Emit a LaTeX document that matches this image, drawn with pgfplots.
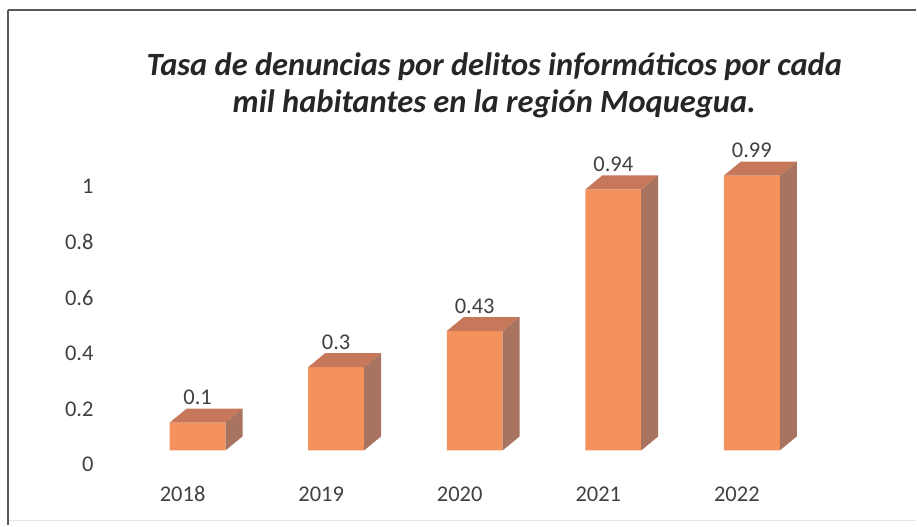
\documentclass[border=0pt]{standalone}
\usepackage{pgfplots}
\pgfplotsset{compat=1.18}
\usepackage{fontspec}
\setmainfont{Carlito}
\definecolor{frontc}{HTML}{F4925E}
\definecolor{topc}{HTML}{C8785A}
\definecolor{sidec}{HTML}{A8735F}
\definecolor{txt}{HTML}{404040}
\definecolor{ttl}{HTML}{262626}
\pgfdeclareplotmark{box3d}{%
  \pgfmathsetlengthmacro\hb{14pt-\yv*278pt}%
  \pgfmathsetlengthmacro\hc{-\yv*278pt}%
  \pgfpathmoveto{\pgfpoint{-28pt}{0pt}}%
  \pgfpathlineto{\pgfpoint{28pt}{0pt}}%
  \pgfpathlineto{\pgfpoint{45pt}{14pt}}%
  \pgfpathlineto{\pgfpoint{-11pt}{14pt}}%
  \pgfpathclose
  \pgfsetfillcolor{topc}%
  \pgfusepath{fill}%
  \pgfpathmoveto{\pgfpoint{28pt}{0pt}}%
  \pgfpathlineto{\pgfpoint{45pt}{14pt}}%
  \pgfpathlineto{\pgfpoint{45pt}{\hb}}%
  \pgfpathlineto{\pgfpoint{28pt}{\hc}}%
  \pgfpathclose
  \pgfsetfillcolor{sidec}%
  \pgfusepath{fill}%
}
\begin{document}
\begin{tikzpicture}
\path (0pt,0pt) rectangle (917pt,-526pt);
\draw[line width=2.5pt, draw=black!65] (8pt,-10pt) -- (917pt,-10pt);
\draw[line width=2pt, draw=black!65] (8pt,-10pt) -- (8pt,-526pt);
\draw[line width=1.5pt, draw=black!10] (9pt,-521pt) -- (917pt,-521pt);
\node[font=\fontsize{32.5}{37}\selectfont\bfseries\itshape, text=ttl, align=center] at (495pt,-85pt)
  {Tasa de denuncias por delitos informáticos por cada\\mil habitantes en la región Moquegua.};
\begin{axis}[
  at={(93.8pt,-451pt)}, anchor=south west,
  x=138.75pt, y=278pt,
  xmin=-0.75, xmax=4.75, ymin=0, ymax=1.12,
  clip=false,
  axis line style={draw=none},
  major tick length=0pt,
  xtick={0,1,2,3,4},
  xticklabels={2018,2019,2020,2021,2022},
  ytick={0,0.2,0.4,0.6,0.8,1},
  /pgf/number format/assume math mode=true,
  ticklabel style={font=\fontsize{22.5}{27}\selectfont, text=txt},
  xticklabel style={anchor=center, xshift=-15pt, yshift=-44pt},
  yticklabel style={anchor=east, inner sep=0pt, yshift=-14pt},
]
\addplot[ybar, bar width=56pt, bar shift=0pt, fill=frontc, draw=none]
  coordinates {(0,0.1) (1,0.3) (2,0.43) (3,0.94) (4,0.99)};
\addplot[only marks, mark=box3d, draw=none,
  visualization depends on={y \as \yv},
  point meta=y,
  nodes near coords,
  nodes near coords style={anchor=center, yshift=25pt, font=\fontsize{22.5}{27}\selectfont, text=txt},
]
  coordinates {(0,0.1) (1,0.3) (2,0.43) (3,0.94) (4,0.99)};
\end{axis}
\end{tikzpicture}
\end{document}
